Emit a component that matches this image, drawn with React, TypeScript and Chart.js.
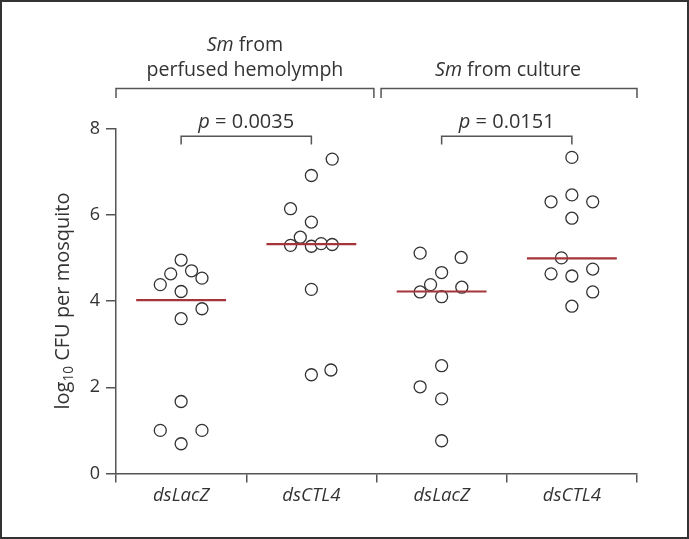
import React, { useEffect, useRef } from 'react';
import { Chart, registerables } from 'chart.js';

Chart.register(...registerables);

// ---- data ----
const categories = ['dsLacZ', 'dsCTL4', 'dsLacZ', 'dsCTL4'];
const yTickValues = [0, 2, 4, 6, 8];

const lacZHemolymph = [4.95, 4.70, 4.63, 4.53, 4.38, 4.22, 3.82, 3.59, 1.67, 1.00, 1.00, 0.69];
const lacZHemolymphJitter = [0, 0.08, -0.08, 0.16, -0.16, 0, 0.16, 0, 0, -0.16, 0.16, 0];

const ctl4Hemolymph = [7.29, 6.91, 6.14, 5.83, 5.48, 5.29, 5.27, 5.33, 5.31, 4.27, 2.29, 2.40];
const ctl4HemolymphJitter = [0.16, 0, -0.16, 0, -0.085, -0.16, 0, 0.075, 0.16, 0, 0, 0.15];

const lacZCulture = [5.11, 5.01, 4.66, 4.38, 4.32, 4.21, 4.10, 2.50, 2.01, 1.73, 0.76];
const lacZCultureJitter = [-0.165, 0.15, 0, -0.085, 0.155, -0.165, 0, 0, -0.165, 0, 0];

const ctl4Culture = [7.33, 6.46, 6.30, 6.30, 5.92, 5.00, 4.74, 4.63, 4.58, 4.21, 3.88];
const ctl4CultureJitter = [0, 0, -0.16, 0.16, 0, -0.08, 0.16, -0.16, 0, 0.16, 0];

const medians = [4.02, 5.32, 4.22, 4.99];
const pValues = ['0.0035', '0.0151'];

const groupValues = [lacZHemolymph, ctl4Hemolymph, lacZCulture, ctl4Culture];
const groupJitter = [lacZHemolymphJitter, ctl4HemolymphJitter, lacZCultureJitter, ctl4CultureJitter];

// ---- styles ----
const FONT = '"Open Sans", "DejaVu Sans", sans-serif';
const TEXT = '#333333';
const AXIS = '#555555';
const MEDIAN = '#a5343b';

type Seg = { t: string; it?: boolean; sub?: boolean };

function drawSegs(ctx: CanvasRenderingContext2D, segs: Seg[], cx: number, cy: number, size: number) {
  const fontFor = (s: Seg) => `${s.it ? 'italic ' : ''}${s.sub ? size * 0.68 : size}px ${FONT}`;
  let total = 0;
  const widths = segs.map((s) => {
    ctx.font = fontFor(s);
    const w = ctx.measureText(s.t).width;
    total += w;
    return w;
  });
  let x = cx - total / 2;
  ctx.textBaseline = 'alphabetic';
  ctx.textAlign = 'left';
  segs.forEach((s, i) => {
    ctx.font = fontFor(s);
    ctx.fillText(s.t, x, cy + size * 0.36 + (s.sub ? size * 0.2 : 0));
    x += widths[i];
  });
}

const annotations = {
  id: 'annotations',
  afterDraw(chart: any) {
    const { ctx, scales } = chart;
    const xs = scales.x;
    const ys = scales.y;
    const X = (v: number) => xs.getPixelForValue(v);
    const Y = (v: number) => ys.getPixelForValue(v);
    ctx.save();
    ctx.fillStyle = TEXT;
    ctx.strokeStyle = AXIS;
    ctx.lineWidth = 1.5;

    const bracket = (x1: number, x2: number, yTop: number, yBot: number) => {
      ctx.beginPath();
      ctx.moveTo(X(x1), Y(yBot));
      ctx.lineTo(X(x1), Y(yTop));
      ctx.lineTo(X(x2), Y(yTop));
      ctx.lineTo(X(x2), Y(yBot));
      ctx.stroke();
    };

    // group brackets
    bracket(0, 1.98, 8.93, 8.71);
    bracket(2.035, 4, 8.93, 8.71);
    // p brackets
    bracket(0.5, 1.5, 7.82, 7.63);
    bracket(2.5, 3.5, 7.82, 7.63);

    // group titles
    drawSegs(ctx, [{ t: 'Sm', it: true }, { t: ' from' }], X(0.99), Y(9.97), 19.6);
    drawSegs(ctx, [{ t: 'perfused hemolymph' }], X(0.99), Y(9.39), 19.6);
    drawSegs(ctx, [{ t: 'Sm', it: true }, { t: ' from culture' }], X(3.01), Y(9.39), 19.6);

    // p values
    drawSegs(ctx, [{ t: 'p', it: true }, { t: ' = ' + pValues[0] }], X(1.0), Y(8.19), 20);
    drawSegs(ctx, [{ t: 'p', it: true }, { t: ' = ' + pValues[1] }], X(3.0), Y(8.19), 20);

    // y-axis title
    ctx.save();
    ctx.translate(60, Y(4));
    ctx.rotate(-Math.PI / 2);
    drawSegs(ctx, [{ t: 'log' }, { t: '10', sub: true }, { t: ' CFU per mosquito' }], 0, 0, 20);
    ctx.restore();

    ctx.restore();
  },
};

export default function App() {
  const ref = useRef<HTMLCanvasElement>(null);
  useEffect(() => {
    if (!ref.current) return;
    const pointSets = groupValues.map((vals, g) => ({
      type: 'scatter' as const,
      data: vals.map((v, i) => ({ x: g + 0.5 + groupJitter[g][i], y: v })),
      pointRadius: 6,
      pointHoverRadius: 6,
      pointBackgroundColor: '#ffffff',
      pointBorderColor: '#333333',
      pointBorderWidth: 1.3,
      showLine: false,
      order: 2,
    }));
    const medianSets = medians.map((m, g) => ({
      type: 'line' as const,
      data: [
        { x: g + 0.5 - 0.345, y: m },
        { x: g + 0.5 + 0.345, y: m },
      ],
      borderColor: MEDIAN,
      borderWidth: 2.2,
      pointRadius: 0,
      fill: false,
      order: 1,
    }));
    const chart = new Chart(ref.current, {
      type: 'scatter',
      data: { datasets: [...pointSets, ...medianSets] as any },
      options: {
        animation: false,
        responsive: false,
        events: [],
        layout: { padding: { top: 126.5, right: 50, bottom: 23.5, left: 0 } },
        plugins: { legend: { display: false }, tooltip: { enabled: false } },
        scales: {
          x: {
            type: 'linear',
            min: 0,
            max: 4,
            afterFit: (s: any) => {
              s.height = 40;
            },
            afterBuildTicks: (s: any) => {
              s.ticks = [0, 0.5, 1, 1.5, 2, 2.5, 3, 3.5, 4].map((v) => ({ value: v }));
            },
            ticks: {
              autoSkip: false,
              maxRotation: 0,
              padding: 2,
              color: TEXT,
              font: { family: FONT, size: 18.6, style: 'italic' },
              callback: (v: any) => (Number.isInteger(v) ? '' : categories[Math.floor(v)]),
            },
            grid: {
              drawOnChartArea: false,
              tickLength: 9,
              lineWidth: 1.5,
              color: (c: any) => (c.tick && Number.isInteger(c.tick.value) ? AXIS : 'rgba(0,0,0,0)'),
            },
            border: { color: AXIS, width: 1.5 },
          },
          y: {
            type: 'linear',
            min: 0,
            max: 8,
            afterFit: (s: any) => {
              s.width = 114;
            },
            afterBuildTicks: (s: any) => {
              s.ticks = yTickValues.map((v) => ({ value: v }));
            },
            ticks: {
              padding: 6,
              color: TEXT,
              font: { family: FONT, size: 18 },
            },
            grid: { drawOnChartArea: false, tickLength: 10, lineWidth: 1.5, color: AXIS },
            border: { color: AXIS, width: 1.5 },
          },
        },
      },
      plugins: [annotations],
    });
    return () => chart.destroy();
  }, []);

  return (
    <div
      style={{
        position: 'fixed',
        left: 0,
        top: 0,
        width: 689,
        height: 539,
        boxSizing: 'border-box',
        border: '2px solid #333',
        background: '#fff',
      }}
    >
      <canvas ref={ref} width={685} height={535} style={{ display: 'block' }} />
    </div>
  );
}
